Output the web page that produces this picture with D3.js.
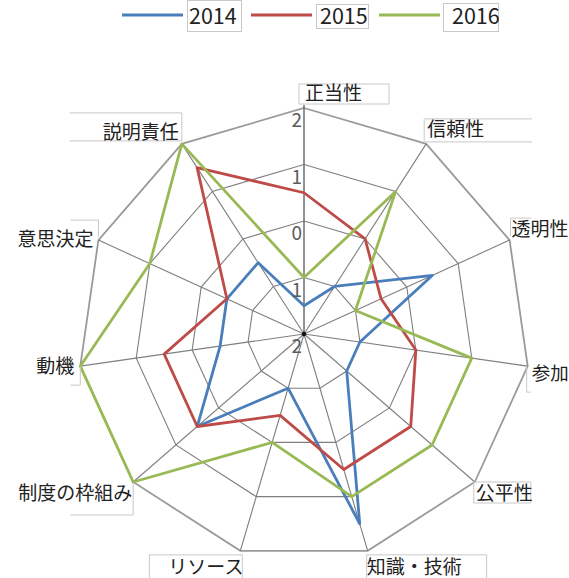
<!DOCTYPE html>
<html>
<head>
<meta charset="utf-8">
<script src="https://cdn.jsdelivr.net/npm/d3@7"></script>
<style>
  html, body { margin: 0; padding: 0; background: #fff; }
  svg { display: block; }
  text { font-family: "Noto Sans CJK JP", "Noto Sans", sans-serif; }
</style>
</head>
<body>
<svg id="chart" width="569" height="578"></svg>
<script>
// Axis categories, clockwise from the top
const categories = ["正当性", "信頼性", "透明性", "参加", "公平性", "知識・技術",
                    "リソース", "制度の枠組み", "動機", "意思決定", "説明責任"];
const years = ["2014", "2015", "2016"];
const values2014 = [-1.5, -1, 0.5, -1, -1, 1.5, -1, 0.5, -0.5, -0.5, -0.5];
const values2015 = [0.5, 0, -0.5, 0, 0.5, 0.5, -0.5, 0.5, 0.5, -0.5, 1.5];
const values2016 = [-1, 1, -1, 1, 1, 1, 0, 2, 2, 1, 2];
const tickValues = [-2, -1, 0, 1, 2];
const tickLabels = ["2", "1", "0", "1", "2"];

const seriesColors = ["#4a7ebb", "#be4b48", "#98b954"];
const series = years.map((y, i) => ({ year: y, values: [values2014, values2015, values2016][i], color: seriesColors[i] }));

const svg = d3.select("#chart");
const cx = 304, cy = 334, R = 226;
const g = svg.append("g").attr("transform", `translate(${cx},${cy})`);

const r = d3.scaleLinear().domain([-2, 2]).range([0, R]);
const angle = d3.scaleLinear().domain([0, categories.length]).range([0, 2 * Math.PI]);
const pt = (i, v) => [Math.sin(angle(i)) * r(v), -Math.cos(angle(i)) * r(v)];

// Web rings
const ringLine = d3.lineRadial().angle((d, i) => angle(i)).radius(d => r(d)).curve(d3.curveLinearClosed);
tickValues.filter(t => t > -2).forEach(t => {
  g.append("path")
    .attr("d", ringLine(categories.map(() => t)))
    .attr("fill", "none")
    .attr("stroke", t === 2 ? "#9a9a9a" : "#7f7f7f")
    .attr("stroke-width", t === 2 ? 1.8 : 1.1);
});

// Spokes
categories.forEach((c, i) => {
  const [x, y] = pt(i, 2);
  g.append("line")
    .attr("x1", 0).attr("y1", 0).attr("x2", x).attr("y2", i === 0 ? y - 3 : y)
    .attr("stroke", i === 0 ? "#6e6e6e" : "#7f7f7f")
    .attr("stroke-width", i === 0 ? 1.5 : 1.1);
});

// Series polygons
const seriesLine = d3.lineRadial().angle((d, i) => angle(i)).radius(d => r(d)).curve(d3.curveLinearClosed);
series.forEach(s => {
  g.append("path")
    .attr("d", seriesLine(s.values))
    .attr("fill", "none")
    .attr("stroke", s.color)
    .attr("stroke-width", 2.8)
    .attr("stroke-linejoin", "round");
});

// Centre dot where the spokes meet
g.append("circle").attr("r", 2.2).attr("fill", "#111");

// Value axis labels
tickValues.forEach((t, i) => {
  g.append("text")
    .attr("x", -2)
    .attr("y", -r(t) + 19)
    .attr("text-anchor", "end")
    .attr("font-family", "'Noto Sans', sans-serif")
    .attr("font-size", 19)
    .attr("fill", "#5b5b5b")
    .text(tickLabels[i]);
});

// Category label placement relative to each outer vertex: text offset and frame
const labelLayout = [
  { dx: 1,    dy: -8, box: [-5, -24, 85, -4],   sides: "tlrb" },
  { dx: 1,    dy: -8, box: [-2, -25, 106, -2],  sides: "tlb" },
  { dx: 2,    dy: -4, box: [1, -22, 22, -4],    sides: "tl" },
  { dx: 4,    dy: 14, box: [-1, 0, 3, 26],      sides: "lb" },
  { dx: 1,    dy: 18, box: [-1, 0, 56, 21],     sides: "tlrb" },
  { dx: -1,   dy: 23, box: [-1, 4, 119, 29],    sides: "tlr" },
  { dx: -72,  dy: 23, box: [-91, 4, 2, 29],     sides: "tlr" },
  { dx: -115, dy: 18, box: [-63, 1, 0, 33],     sides: "rb" },
  { dx: -44,  dy: 7,  box: [-10, 0, 0, 19],     sides: "rb" },
  { dx: -81,  dy: 6,  box: [-28, -20, 0, -3],   sides: "tr" },
  { dx: -79,  dy: -5, box: [-112, -31, 0, -3],  sides: "trb" }
];

const labels = svg.append("g").attr("transform", `translate(${cx},${cy})`);
categories.forEach((c, i) => {
  const [vx, vy] = pt(i, 2);
  const L = labelLayout[i];
  const [x0, y0, x1, y1] = L.box.map((v, k) => v + (k % 2 === 0 ? vx : vy));
  const edges = { t: [x0, y0, x1, y0], b: [x0, y1, x1, y1], l: [x0, y0, x0, y1], r: [x1, y0, x1, y1] };
  L.sides.split("").forEach(s => {
    const e = edges[s];
    labels.append("line")
      .attr("x1", e[0]).attr("y1", e[1]).attr("x2", e[2]).attr("y2", e[3])
      .attr("stroke", "#c8c8c8").attr("stroke-width", 1);
  });
  labels.append("text")
    .attr("x", vx + L.dx)
    .attr("y", vy + L.dy)
    .attr("font-size", i === 3 ? 18.5 : 19)
    .attr("fill", "#222")
    .text(c);
});

// Legend
const legendLayout = [
  { x0: 122, x1: 183, box: [187, 0, 241, 31], tx: 189 },
  { x0: 251, x1: 312, box: [316, 4, 368, 28], tx: 320 },
  { x0: 379, x1: 440, box: [443, 3, 498, 31], tx: 452 }
];
const legend = svg.append("g");
series.forEach((s, i) => {
  const L = legendLayout[i];
  legend.append("line")
    .attr("x1", L.x0).attr("x2", L.x1).attr("y1", 15).attr("y2", 15)
    .attr("stroke", s.color).attr("stroke-width", 3);
  legend.append("rect")
    .attr("x", L.box[0] + 0.5).attr("y", L.box[1] + 0.5)
    .attr("width", L.box[2] - L.box[0]).attr("height", L.box[3] - L.box[1])
    .attr("fill", "none").attr("stroke", "#c8c8c8");
  legend.append("text")
    .attr("x", L.tx).attr("y", 24)
    .attr("font-family", "'Noto Sans', sans-serif")
    .attr("font-size", 21.5)
    .attr("fill", "#222")
    .text(s.year);
});
</script>
</body>
</html>
